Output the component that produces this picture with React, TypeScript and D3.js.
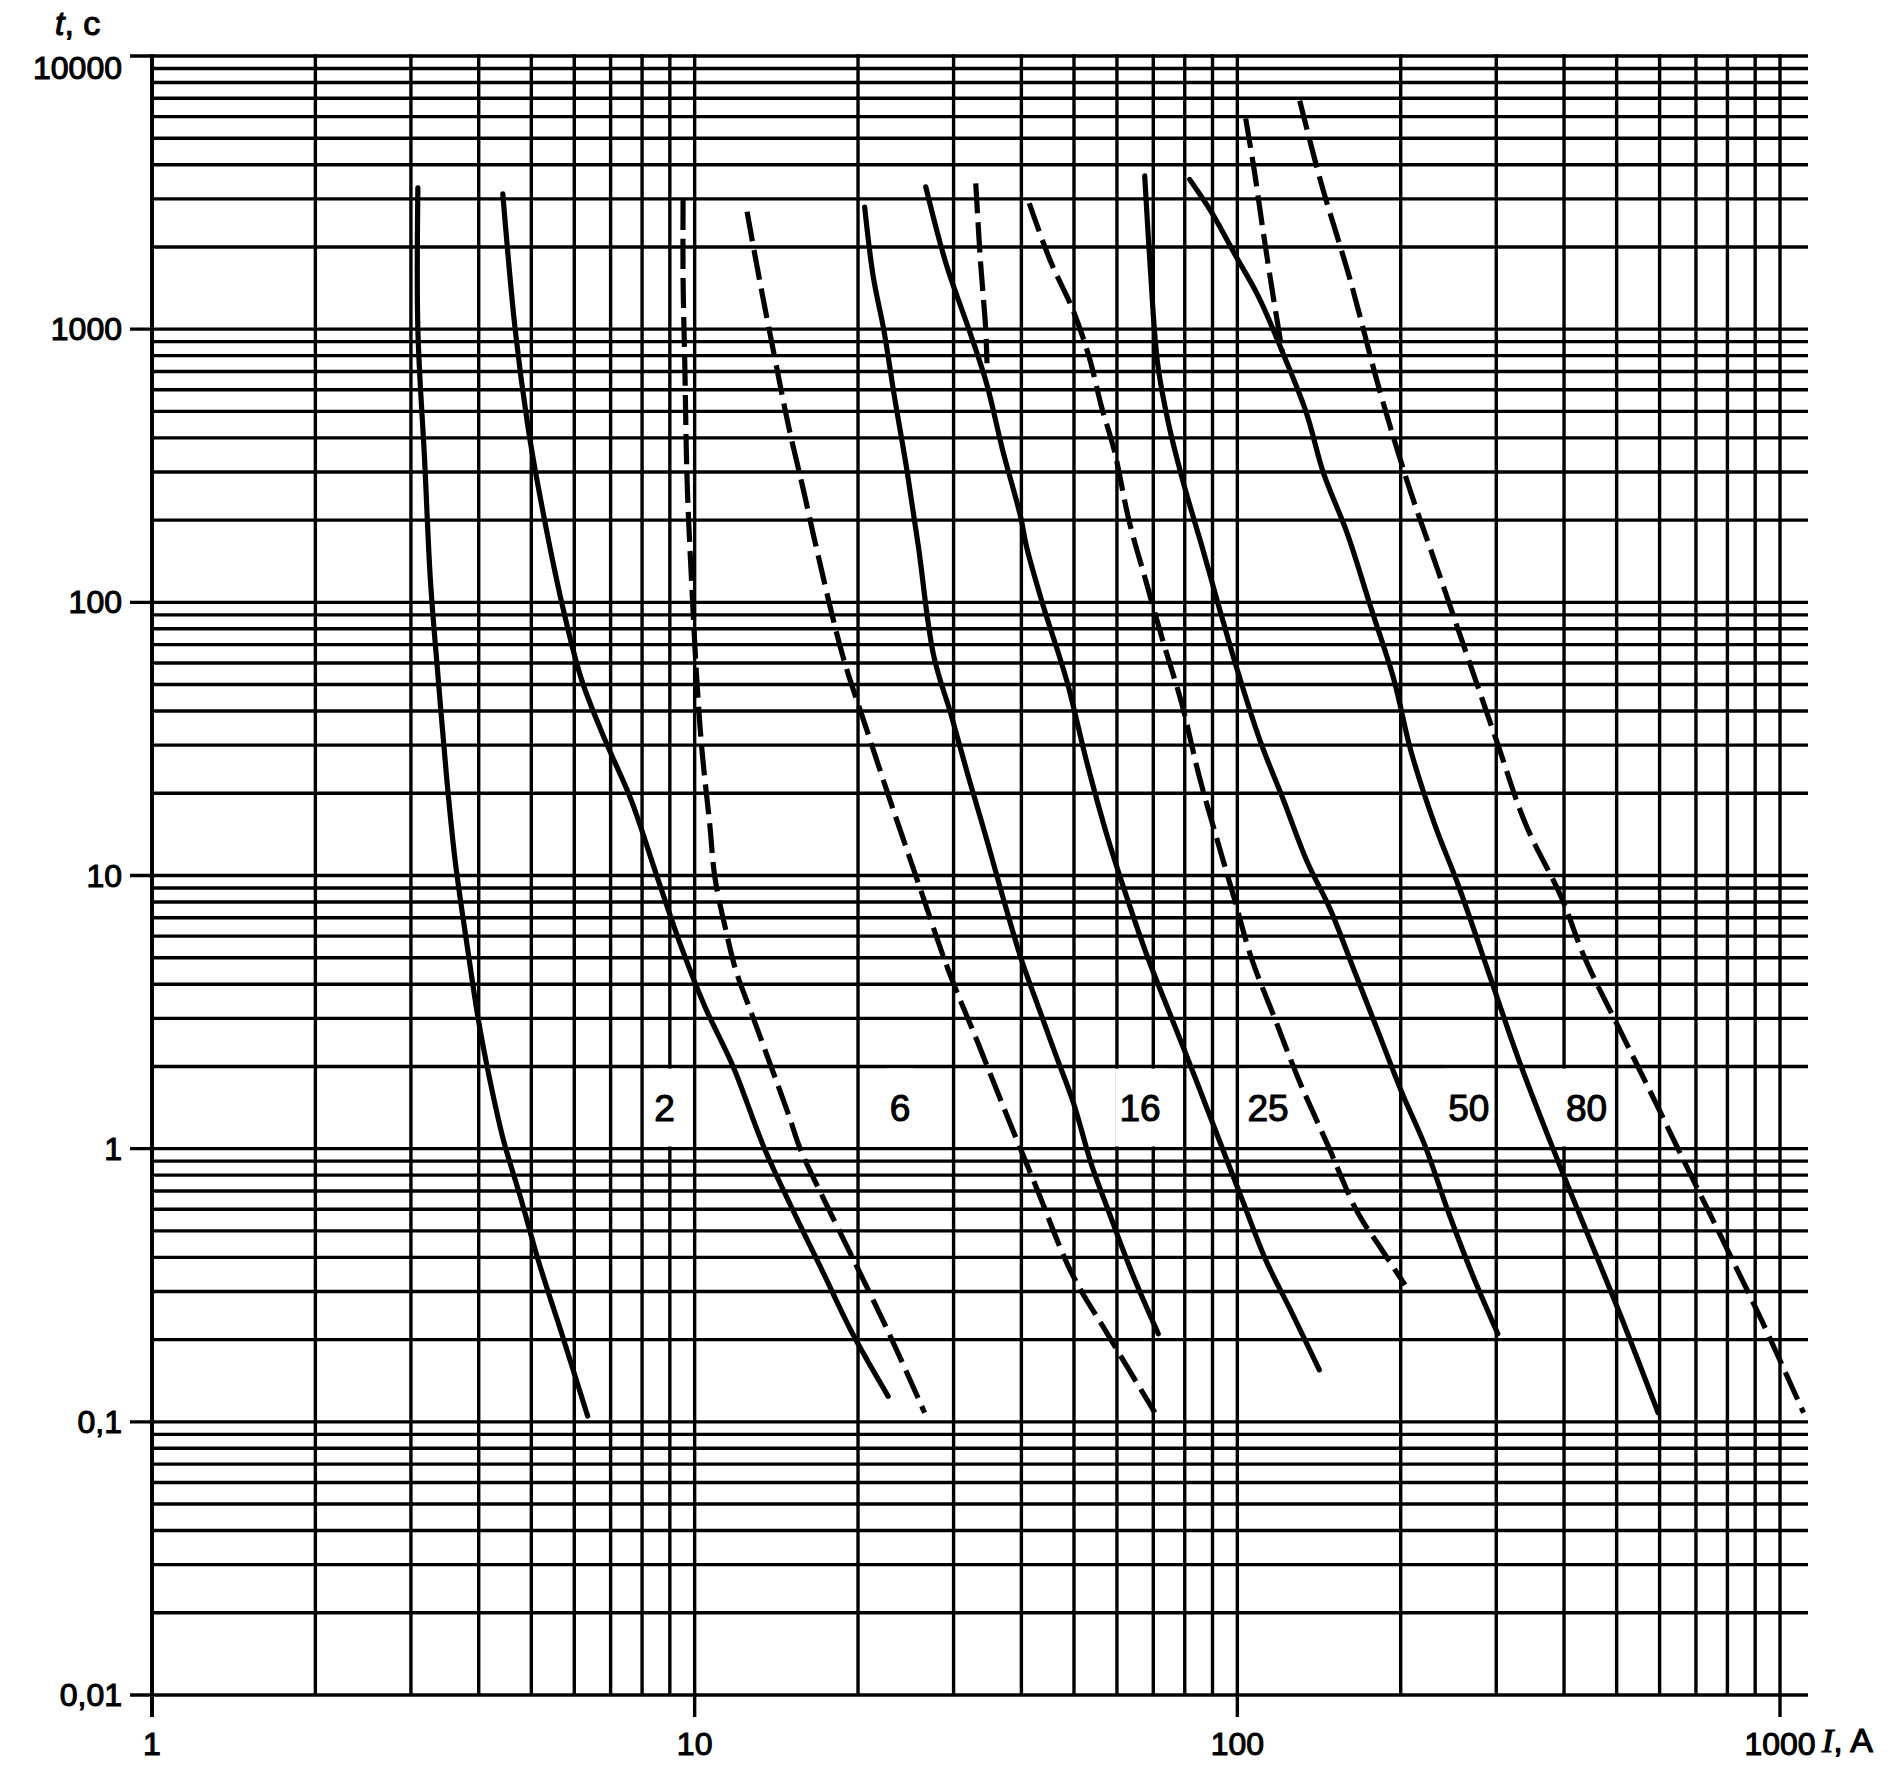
import React from "react";
import * as d3 from "d3";

// ---- axis labels ----
const xTickValues = [1, 10, 100, 1000];
const xTickLabels = ["1", "10", "100", "1000"];
const yTickValues = [10000, 1000, 100, 10, 1, 0.1, 0.01];
const yTickLabels = ["10000", "1000", "100", "10", "1", "0,1", "0,01"];

// ---- curves: [current I (A), time t (s)] ----
const solid1: [number, number][] = [
  [3.09, 3290], [3.09, 995], [3.18, 330], [3.26, 119], [3.37, 52], [3.49, 23], [3.62, 11.3],
  [3.81, 5.5], [3.99, 3.0], [4.19, 1.8], [4.44, 1.08], [4.79, 0.65], [5.15, 0.39], [5.69, 0.21], [6.35, 0.105],
];
const solid2: [number, number][] = [
  [4.43, 3130], [4.67, 995], [4.92, 450], [5.14, 270], [5.7, 98], [6.19, 52], [6.83, 31.5], [7.63, 19],
  [8.54, 9.8], [9.44, 5.5], [10.45, 3.3], [11.77, 2.0], [13.45, 1.0], [15.27, 0.58], [17.27, 0.35], [19.55, 0.21], [22.73, 0.124],
];
const dashed1: [number, number][] = [
  [9.52, 2970], [9.52, 1529], [9.59, 747], [9.69, 269], [9.92, 97.8], [10.09, 52.4], [10.32, 28.4], [10.66, 15.4],
  [10.9, 9.81], [11.45, 6.14], [11.9, 4.52], [12.83, 3.0], [13.84, 1.99], [14.92, 1.32], [15.66, 0.995], [17.33, 0.648],
  [19.66, 0.389], [22.83, 0.21], [26.53, 0.108],
];
const dashed2: [number, number][] = [
  [12.49, 2690], [13.19, 1490], [14.04, 790], [14.9, 440], [15.92, 250], [16.68, 165], [18.73, 64], [20.67, 35],
  [22.88, 19], [25.92, 9.2], [29.35, 4.5], [33.26, 2.44], [37.63, 1.32], [42.64, 0.72], [49.52, 0.35], [57.62, 0.21], [70.47, 0.108],
];
const solid3: [number, number][] = [
  [20.57, 2800], [21.33, 1560], [22.32, 990], [23.34, 566], [24.55, 314], [25.84, 160], [27.56, 64], [29.7, 38.6],
  [31.9, 23.2], [34.4, 13.9], [37.0, 8.3], [39.9, 5.0], [43.0, 3.3], [46.3, 2.2], [49.9, 1.47], [53.8, 0.88],
  [58.0, 0.585], [64.0, 0.35], [71.5, 0.21],
];
const solid4: [number, number][] = [
  [26.66, 3320], [29.05, 1740], [32.04, 993], [34.5, 634], [36.94, 361], [39.86, 206], [40.88, 160], [43.89, 97],
  [48.45, 52], [52.9, 25.6], [57.6, 13.9], [62.6, 8.3], [68.4, 5.0], [75.7, 3.0], [83.8, 1.8], [92.5, 1.08],
  [102.1, 0.65], [112.9, 0.39], [124.9, 0.26], [141.6, 0.155],
];
const dashed3: [number, number][] = [
  [32.96, 3420], [33.58, 1840], [33.95, 1390], [34.39, 993], [34.57, 750],
];
const dashed4: [number, number][] = [
  [41.36, 2890], [45.17, 1790], [49.78, 1176], [53.3, 793], [56.2, 520], [59.3, 361], [63.2, 198], [67.9, 119],
  [73.1, 71], [78.9, 43], [85.0, 23.2], [91.4, 13.9], [98.6, 8.3], [106.1, 5.0], [117.2, 3.0], [129.6, 1.8],
  [146.8, 1.03], [166.5, 0.585], [184.1, 0.43], [203.7, 0.317],
];
const solid5: [number, number][] = [
  [67.5, 3640], [69.1, 1690], [71.3, 750], [74.7, 450], [79.7, 270], [86.0, 161], [92.4, 97], [99.6, 58],
  [109.9, 31.5], [121.6, 18.9], [134.3, 11.3], [148.4, 7.5], [164.1, 4.5], [181.5, 2.7], [200.6, 1.62],
  [221.5, 1.03], [244.9, 0.585], [270.5, 0.35], [302.0, 0.21],
];
const solid6: [number, number][] = [
  [81.7, 3533], [89.6, 2682], [99.0, 1876], [109.5, 1311], [121.0, 828], [133.9, 497], [144.1, 298], [159.4, 178.8],
  [175.9, 96.8], [194.2, 52.4], [209.0, 28.4], [231.0, 15.4], [255.3, 9.23], [289.2, 4.52], [327.4, 2.21],
  [361.3, 1.32], [399.7, 0.795], [453.3, 0.43], [513.6, 0.233], [596.1, 0.108],
];
const dashed5: [number, number][] = [
  [103.6, 5910], [107.4, 3833], [111.5, 2300], [116.0, 1380], [121.0, 828],
];
const dashed6: [number, number][] = [
  [130.3, 6866], [142.5, 3462], [161.2, 1529], [182.4, 609], [206.6, 269], [234.0, 131.6], [264.7, 64.4],
  [299.8, 31.5], [339.9, 15.4], [395.4, 8.33], [436.6, 5.0], [507.4, 2.71], [590.4, 1.47], [686.2, 0.795],
  [798.7, 0.43], [927.1, 0.233], [1105, 0.108],
];

const solidCurves = [solid1, solid2, solid3, solid4, solid5, solid6];
const dashedCurves = [dashed1, dashed2, dashed3, dashed4, dashed5, dashed6];

// ---- rating labels ----
const ratingLabels = ["2", "6", "16", "25", "50", "80"];
const ratingLabelCurrents = [8.8, 23.9, 66.2, 113.9, 267, 440];
const ratingLabelTime = 1.41;

export default function App() {
  const W = 1901;
  const H = 1765;
  const x = d3.scaleLog().domain([1, 1000]).range([152, 1780]);
  const y = d3.scaleLog().domain([10000, 0.01]).range([56, 1695]);

  const xMin = x(1);
  const xMax = x(1000);
  const xExt = xMax + 28;
  const yTop = y(10000);
  const yBot = y(0.01);
  const tickLen = 22;

  const xGrid: number[] = [];
  for (let e = 0; e < 3; e++) for (let m = 1; m < 10; m++) xGrid.push(m * Math.pow(10, e));
  xGrid.push(1000);
  const yGrid: number[] = [];
  for (let e = -2; e < 4; e++) for (let m = 1; m < 10; m++) yGrid.push(+(m * Math.pow(10, e)).toPrecision(3));
  yGrid.push(10000);

  const line = d3
    .line<[number, number]>()
    .x((d) => x(d[0]))
    .y((d) => y(d[1]))
    .curve(d3.curveCatmullRom.alpha(0.5));

  const sans = "'Liberation Sans', Arial, sans-serif";
  const gridW = 3.4;
  const curveW = 5.2;
  const textStroke = { stroke: "#000", strokeWidth: 1.1 };

  return (
    <svg
      width={W}
      height={H}
      viewBox={`0 0 ${W} ${H}`}
      style={{ position: "absolute", left: 0, top: 0, background: "#fff" }}
    >
      <rect x={0} y={0} width={W} height={H} fill="#fff" />
      {yGrid.map((v, i) => {
        const isDecade = yTickValues.includes(v);
        return (
          <line
            key={"h" + i}
            x1={isDecade ? xMin - tickLen : xMin}
            x2={xExt}
            y1={y(v)}
            y2={y(v)}
            stroke="#000"
            strokeWidth={gridW}
          />
        );
      })}
      {xGrid.map((v, i) => {
        const isDecade = xTickValues.includes(v);
        return (
          <line
            key={"v" + i}
            x1={x(v)}
            x2={x(v)}
            y1={yTop - gridW / 2}
            y2={isDecade ? yBot + tickLen : yBot}
            stroke="#000"
            strokeWidth={v === 1 ? 4 : gridW}
          />
        );
      })}

      {ratingLabels.map((lab, i) => {
        const cx = x(ratingLabelCurrents[i]);
        const w = lab.length * 21 + 8;
        return (
          <rect
            key={"lb" + i}
            x={cx - w / 2}
            y={y(2) + gridW / 2 + 0.5}
            width={w}
            height={y(1) - y(2) - gridW - 1}
            fill="#fff"
          />
        );
      })}
      {ratingLabels.map((lab, i) => (
        <text
          key={"lt" + i}
          x={x(ratingLabelCurrents[i])}
          y={y(ratingLabelTime) + 13}
          textAnchor="middle"
          fontFamily={sans}
          fontSize={37}
          fill="#000"
          {...textStroke}
        >
          {lab}
        </text>
      ))}

      {solidCurves.map((c, i) => (
        <path
          key={"s" + i}
          d={line(c) || ""}
          fill="none"
          stroke="#000"
          strokeWidth={curveW}
          strokeLinecap="round"
          strokeLinejoin="round"
        />
      ))}
      {dashedCurves.map((c, i) => (
        <path
          key={"d" + i}
          d={line(c) || ""}
          fill="none"
          stroke="#000"
          strokeWidth={curveW}
          strokeDasharray="30 9"
        />
      ))}

      {yTickValues.map((v, i) => (
        <text
          key={"yt" + i}
          x={xMin - tickLen - 8}
          y={y(v) + (i === 0 ? 23 : 11)}
          textAnchor="end"
          fontFamily={sans}
          fontSize={32}
          fill="#000"
          {...textStroke}
        >
          {yTickLabels[i]}
        </text>
      ))}
      {xTickValues.map((v, i) => (
        <text
          key={"xt" + i}
          x={x(v)}
          y={yBot + 60}
          textAnchor="middle"
          fontFamily={sans}
          fontSize={32}
          fill="#000"
          {...textStroke}
        >
          {xTickLabels[i]}
        </text>
      ))}

      <text x={55} y={35} fontFamily={sans} fontSize={34} fill="#000" {...textStroke}>
        <tspan fontStyle="italic">t</tspan>, c
      </text>
      <text x={1822} y={1752} fontSize={34} fill="#000" {...textStroke}>
        <tspan fontFamily="'Liberation Serif', 'Times New Roman', serif" fontStyle="italic">I</tspan>
        <tspan fontFamily={sans}>, A</tspan>
      </text>
    </svg>
  );
}
